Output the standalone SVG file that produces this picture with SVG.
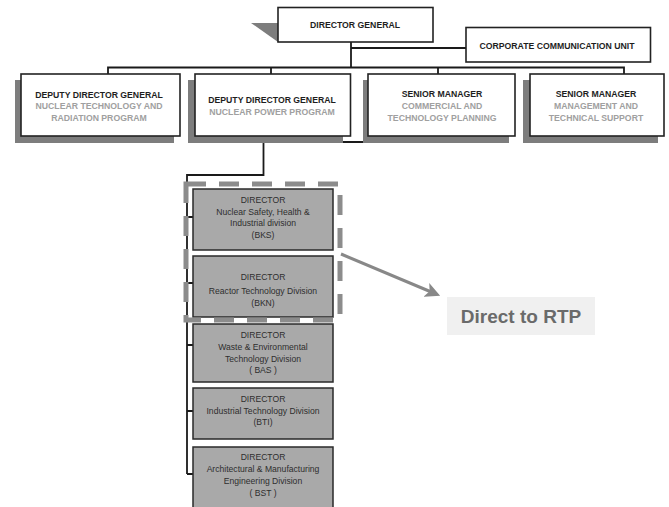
<svg xmlns="http://www.w3.org/2000/svg" width="669" height="507" viewBox="0 0 669 507">
<defs>
<style>
.box{fill:#fff;stroke:#222;stroke-width:1.6}
.shadow{fill:#7d7d7d}
.dir{fill:#a9a9a9;stroke:#2a2a2a;stroke-width:1.5}
.conn{fill:none;stroke:#1a1a1a;stroke-width:1.8}
.h{font-family:"Liberation Sans",Arial,sans-serif;font-weight:bold;font-size:8.7px;text-anchor:middle;fill:#1e1e1e}
.g{font-family:"Liberation Sans",Arial,sans-serif;font-weight:bold;font-size:8.7px;text-anchor:middle;fill:#a0a0a0}
.d{font-family:"Liberation Sans",Arial,sans-serif;font-size:8.6px;text-anchor:middle;fill:#2e2e2e}
</style>
<marker id="ah" markerWidth="5" markerHeight="5" refX="3.5" refY="2.5" orient="auto" markerUnits="strokeWidth">
<path d="M0,0 L5,2.5 L0,5 L1.2,2.5 Z" fill="#888"/>
</marker>
</defs>
<rect width="669" height="507" fill="#fff"/>

<g id="connectors">
<path class="conn" d="M351 42 V68"/>
<path class="conn" d="M351 48 H466"/>
<path class="conn" d="M108 74 V67.5 H624 V74"/>
<path class="conn" d="M271 67.5 V74 M438 67.5 V74"/>
<path class="conn" d="M263.5 136 V175 H187 V474"/>
<path class="conn" d="M187 217 H193 M187 283 H193 M187 345 H193 M187 411 H193 M187 474 H193"/>
<path class="conn" d="M340 142 H437"/>
</g>

<g id="director-general">
<polygon points="251,23 278,23 278,42" fill="#7d7d7d"/>
<rect class="box" x="278" y="7.5" width="155" height="34.5"/>
<text class="h" x="355" y="28">DIRECTOR GENERAL</text>
</g>

<g id="corporate-communication-unit">
<rect class="box" x="466" y="27.5" width="184.5" height="34.5" stroke-width="2"/>
<text class="h" x="557" y="48.5">CORPORATE COMMUNICATION UNIT</text>
</g>

<g id="ddg-ntrp">
<rect class="shadow" x="15" y="80" width="159" height="63"/>
<rect class="box" x="21" y="74" width="159" height="62"/>
<text class="h" x="99" y="97.5">DEPUTY DIRECTOR GENERAL</text>
<text class="g" x="99" y="109">NUCLEAR TECHNOLOGY AND</text>
<text class="g" x="99" y="120.5">RADIATION PROGRAM</text>
</g>

<g id="ddg-npp">
<rect class="shadow" x="188" y="80" width="155" height="63"/>
<rect class="box" x="195" y="74" width="155.5" height="62"/>
<text class="h" x="272" y="103">DEPUTY DIRECTOR GENERAL</text>
<text class="g" x="272" y="114.5">NUCLEAR POWER PROGRAM</text>
</g>

<g id="sm-ctp">
<rect class="shadow" x="363" y="80" width="146" height="63"/>
<rect class="box" x="368" y="74" width="147" height="62"/>
<text class="h" x="442" y="96.5">SENIOR MANAGER</text>
<text class="g" x="442" y="108.5">COMMERCIAL AND</text>
<text class="g" x="442" y="120.5">TECHNOLOGY PLANNING</text>
</g>

<g id="sm-mts">
<rect class="shadow" x="523" y="80" width="135" height="63"/>
<rect class="box" x="530" y="74" width="134" height="62"/>
<text class="h" x="596" y="96.5">SENIOR MANAGER</text>
<text class="g" x="596" y="108.5">MANAGEMENT AND</text>
<text class="g" x="596" y="120.5">TECHNICAL SUPPORT</text>
</g>

<g id="dir-bks">
<rect class="dir" x="193" y="189" width="140" height="61"/>
<text class="d" x="263" y="203">DIRECTOR</text>
<text class="d" x="263" y="214.5">Nuclear Safety, Health &amp;</text>
<text class="d" x="263" y="226">Industrial division</text>
<text class="d" x="263" y="237.5">(BKS)</text>
</g>

<g id="dir-bkn">
<rect class="dir" x="193" y="256" width="140" height="61"/>
<text class="d" x="263" y="280">DIRECTOR</text>
<text class="d" x="263" y="294">Reactor Technology Division</text>
<text class="d" x="263" y="306">(BKN)</text>
</g>

<g id="dir-bas">
<rect class="dir" x="193" y="324" width="140" height="58"/>
<text class="d" x="263" y="338">DIRECTOR</text>
<text class="d" x="263" y="349.5">Waste &amp; Environmental</text>
<text class="d" x="263" y="361.5">Technology Division</text>
<text class="d" x="263" y="373">( BAS )</text>
</g>

<g id="dir-bti">
<rect class="dir" x="193" y="388" width="140" height="51"/>
<text class="d" x="263" y="402">DIRECTOR</text>
<text class="d" x="263" y="413.5">Industrial Technology Division</text>
<text class="d" x="263" y="425">(BTI)</text>
</g>

<g id="dir-bst">
<rect class="dir" x="193" y="447" width="140" height="64"/>
<text class="d" x="263" y="460">DIRECTOR</text>
<text class="d" x="263" y="472">Architectural &amp; Manufacturing</text>
<text class="d" x="263" y="484">Engineering Division</text>
<text class="d" x="263" y="496">( BST )</text>
</g>

<g id="rtp-group">
<rect x="186" y="184" width="154" height="136" fill="none" stroke="#8c8c8c" stroke-width="5" stroke-dasharray="20 13"/>
</g>

<g id="arrow">
<line x1="341" y1="254" x2="436" y2="294" stroke="#888" stroke-width="3" marker-end="url(#ah)"/>
</g>

<g id="direct-to-rtp">
<rect x="447" y="297" width="148" height="38" fill="#f0f0f0"/>
<text x="521" y="323" font-family="'Liberation Sans',Arial,sans-serif" font-weight="bold" font-size="19" fill="#6a6a6a" text-anchor="middle">Direct to RTP</text>
</g>
</svg>
